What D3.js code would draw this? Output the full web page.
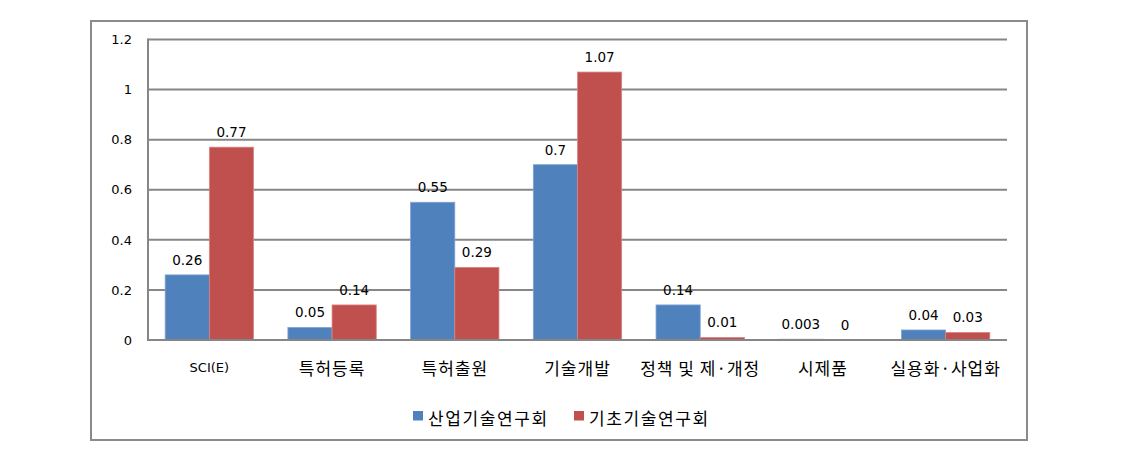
<!DOCTYPE html>
<html>
<head>
<meta charset="utf-8">
<script src="https://cdn.jsdelivr.net/npm/d3@7"></script>
<style>
  body { margin: 0; background: #fff; }
  text { font-family: "DejaVu Sans", Verdana, sans-serif; fill: #000; }
  .kr { font-family: "Noto Sans CJK KR", sans-serif; letter-spacing: 1px; }
</style>
</head>
<body>
<svg id="chart" width="1122" height="470"></svg>
<script>
// categories and series
var categories = ["SCI(E)", "특허등록", "특허출원", "기술개발", "정책 및 제·개정", "시제품", "실용화·사업화"];
var seriesNames = ["산업기술연구회", "기초기술연구회"];
var industry = [0.26, 0.05, 0.55, 0.7, 0.14, 0.003, 0.04];
var basic = [0.77, 0.14, 0.29, 1.07, 0.01, 0, 0.03];
var yTicks = [0, 0.2, 0.4, 0.6, 0.8, 1, 1.2];
var colors = ["#4F81BD", "#C0504D"];

var svg = d3.select("#chart");

// outer frame
svg.append("rect")
    .attr("x", 91).attr("y", 21)
    .attr("width", 936).attr("height", 419)
    .attr("fill", "none")
    .attr("stroke", "#8a8a8a")
    .attr("stroke-width", 2);

var pLeft = 148, pRight = 1007, pTop = 39.5, pBottom = 340;

var x = d3.scaleBand().domain(categories).range([pLeft, pRight]).paddingInner(0.28).paddingOuter(0.14);
var xs = d3.scaleBand().domain([0, 1]).range([0, x.bandwidth()]);
var y = d3.scaleLinear().domain([0, 1.2]).range([pBottom, pTop]);

// gridlines
svg.append("g").selectAll("line").data(yTicks.slice(1)).enter().append("line")
    .attr("x1", pLeft).attr("x2", pRight)
    .attr("y1", function(d) { return y(d); })
    .attr("y2", function(d) { return y(d); })
    .attr("stroke", "#868686")
    .attr("stroke-width", 2);

// y axis labels
var yAxis = d3.axisLeft(y).tickValues(yTicks).tickSize(0).tickPadding(16)
    .tickFormat(function(d) { return d3.format("")(d); });
var ga = svg.append("g").attr("transform", "translate(" + pLeft + ",0)").call(yAxis);
ga.select(".domain").remove();
ga.selectAll("text").attr("font-size", 13).attr("font-family", "DejaVu Sans, sans-serif").attr("fill", "#000");

// bars
var data = [industry, basic];
data.forEach(function(vals, si) {
    var g = svg.append("g");
    g.selectAll("rect").data(vals).enter().append("rect")
        .attr("x", function(d, i) { return x(categories[i]) + xs(si); })
        .attr("y", function(d) { return y(d); })
        .attr("width", xs.bandwidth())
        .attr("height", function(d) { return pBottom - y(d); })
        .attr("fill", colors[si])
        .attr("stroke", si == 0 ? "#7ea3d3" : "#d88684")
        .attr("stroke-width", 0.8);
    g.selectAll("text").data(vals).enter().append("text")
        .attr("x", function(d, i) { return x(categories[i]) + xs(si) + xs.bandwidth() / 2; })
        .attr("y", function(d) { return y(d) - 10; })
        .attr("text-anchor", "middle")
        .attr("font-size", 13.5)
        .text(function(d) { return d; });
});

// axis lines
svg.append("line").attr("x1", pLeft).attr("x2", pLeft).attr("y1", pTop - 1).attr("y2", pBottom + 1)
    .attr("stroke", "#868686").attr("stroke-width", 2);
svg.append("line").attr("x1", pLeft).attr("x2", pRight).attr("y1", pBottom).attr("y2", pBottom)
    .attr("stroke", "#868686").attr("stroke-width", 2);

// category labels
var xAxis = d3.axisBottom(x).tickSize(0).tickPadding(23);
var gx = svg.append("g").attr("transform", "translate(0," + pBottom + ")").call(xAxis);
gx.select(".domain").remove();
gx.selectAll("text").attr("fill", "#000")
    .attr("class", function(d) { return d == "SCI(E)" ? null : "kr"; })
    .attr("font-family", function(d) { return d == "SCI(E)" ? "DejaVu Sans, sans-serif" : "Noto Sans CJK KR, sans-serif"; })
    .attr("font-size", function(d) { return d == "SCI(E)" ? 13 : 17; });

// legend
var legendX = [413, 574];
var lg = svg.append("g").selectAll("g").data(seriesNames).enter().append("g")
    .attr("transform", function(d, i) { return "translate(" + legendX[i] + ",411)"; });
lg.append("rect").attr("width", 10).attr("height", 9.5)
    .attr("fill", function(d, i) { return colors[i]; });
lg.append("text").attr("class", "kr").attr("x", 15).attr("y", 14)
    .attr("font-size", 17).style("letter-spacing", "1.6px").text(function(d) { return d; });
</script>
</body>
</html>
